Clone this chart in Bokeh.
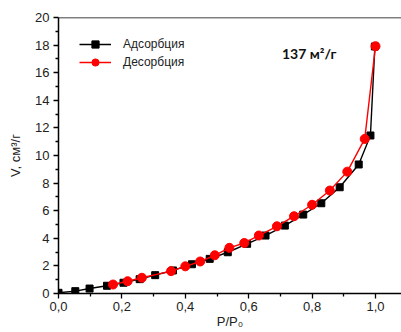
from bokeh.plotting import figure
from bokeh.models import FixedTicker, Span, Label, Range1d
from bokeh.embed import file_html
from bokeh.resources import INLINE

# Data
ads_p = [0.0, 0.053, 0.098, 0.153, 0.205, 0.256, 0.305, 0.361, 0.421, 0.477,
         0.534, 0.595, 0.653, 0.714, 0.772, 0.829, 0.887, 0.947, 0.984, 0.998]
ads_v = [0.05, 0.17, 0.36, 0.56, 0.78, 1.04, 1.33, 1.67, 2.12, 2.51,
         2.99, 3.60, 4.20, 4.92, 5.72, 6.54, 7.70, 9.35, 11.45, 17.9]
des_p = [0.172, 0.218, 0.263, 0.355, 0.400, 0.447, 0.493, 0.539, 0.586, 0.632,
         0.689, 0.743, 0.800, 0.856, 0.911, 0.966, 1.0]
des_v = [0.65, 0.89, 1.14, 1.62, 1.97, 2.32, 2.77, 3.31, 3.66, 4.20,
         4.87, 5.60, 6.43, 7.46, 8.83, 11.2, 17.92]

x_ticks = [0.0, 0.2, 0.4, 0.6, 0.8, 1.0]
x_tick_labels = ["0,0", "0,2", "0,4", "0,6", "0,8", "1,0"]
x_minor = [0.1, 0.3, 0.5, 0.7, 0.9, 1.1]
y_ticks = [0, 2, 4, 6, 8, 10, 12, 14, 16, 18, 20]
y_minor = [1, 3, 5, 7, 9, 11, 13, 15, 17, 19]

series_names = ["Адсорбция", "Десорбция"]
area_text = "137 м²/г"

FONT = "Liberation Sans"

p = figure(width=401, height=332, output_backend="svg", toolbar_location=None,
           x_range=Range1d(0, 1.082), y_range=Range1d(0, 20),
           min_border_left=58, min_border_top=17, min_border_bottom=39,
           min_border_right=0)
p.outline_line_color = None
p.grid.visible = False
p.background_fill_color = "white"

p.line(ads_p, ads_v, color="black", line_width=1.4, legend_label=series_names[0])
p.scatter(ads_p, ads_v, marker="square", size=7, color="black",
          legend_label=series_names[0])
p.line(des_p, des_v, color="#ff0000", line_width=1.4, legend_label=series_names[1])
p.scatter(des_p, des_v, marker="circle", size=9, color="#ff0000",
          legend_label=series_names[1])

top = Span(location=20, dimension="width", line_color="black", line_width=1.5)
p.add_layout(top)

for ax in (p.xaxis[0], p.yaxis[0]):
    ax.axis_line_width = 1.5
    ax.major_tick_line_width = 1.3
    ax.minor_tick_line_width = 1.3
    ax.major_tick_out = 5
    ax.major_tick_in = 0
    ax.minor_tick_out = 3
    ax.minor_tick_in = 0
    ax.major_label_text_font = FONT
    ax.major_label_text_font_size = "13px"
    ax.major_label_text_color = "#222222"
    ax.axis_label_text_font = FONT
    ax.axis_label_text_font_size = "13px"
    ax.axis_label_text_font_style = "normal"
    ax.axis_label_text_color = "#222222"
    ax.major_label_standoff = 4

p.xaxis[0].ticker = FixedTicker(ticks=x_ticks, minor_ticks=x_minor)
p.xaxis[0].major_label_overrides = {t: l for t, l in zip(x_ticks, x_tick_labels)}
p.xaxis[0].axis_label = "P/P₀"
p.xaxis[0].axis_label_standoff = 0
p.xaxis[0].major_label_standoff = 3

p.yaxis[0].ticker = FixedTicker(ticks=y_ticks, minor_ticks=y_minor)
p.yaxis[0].axis_label = "V, см³/г"
p.yaxis[0].axis_label_standoff = 9

lab = Label(x=0.705, y=17.4, text=area_text, text_font="Lato",
            text_font_style="bold", text_font_size="14px",
            text_baseline="middle", text_color="#111111")
p.add_layout(lab)

lg = p.legend[0]
lg.location = (21, 222)
lg.margin = 0
lg.padding = 0
lg.spacing = 0
lg.border_line_color = None
lg.background_fill_alpha = 0
lg.glyph_width = 32
lg.glyph_height = 18
lg.label_height = 18
lg.label_standoff = 12
lg.label_text_font = FONT
lg.label_text_font_size = "12px"
lg.label_text_color = "#222222"

open("out.html", "w").write(file_html(p, INLINE))
